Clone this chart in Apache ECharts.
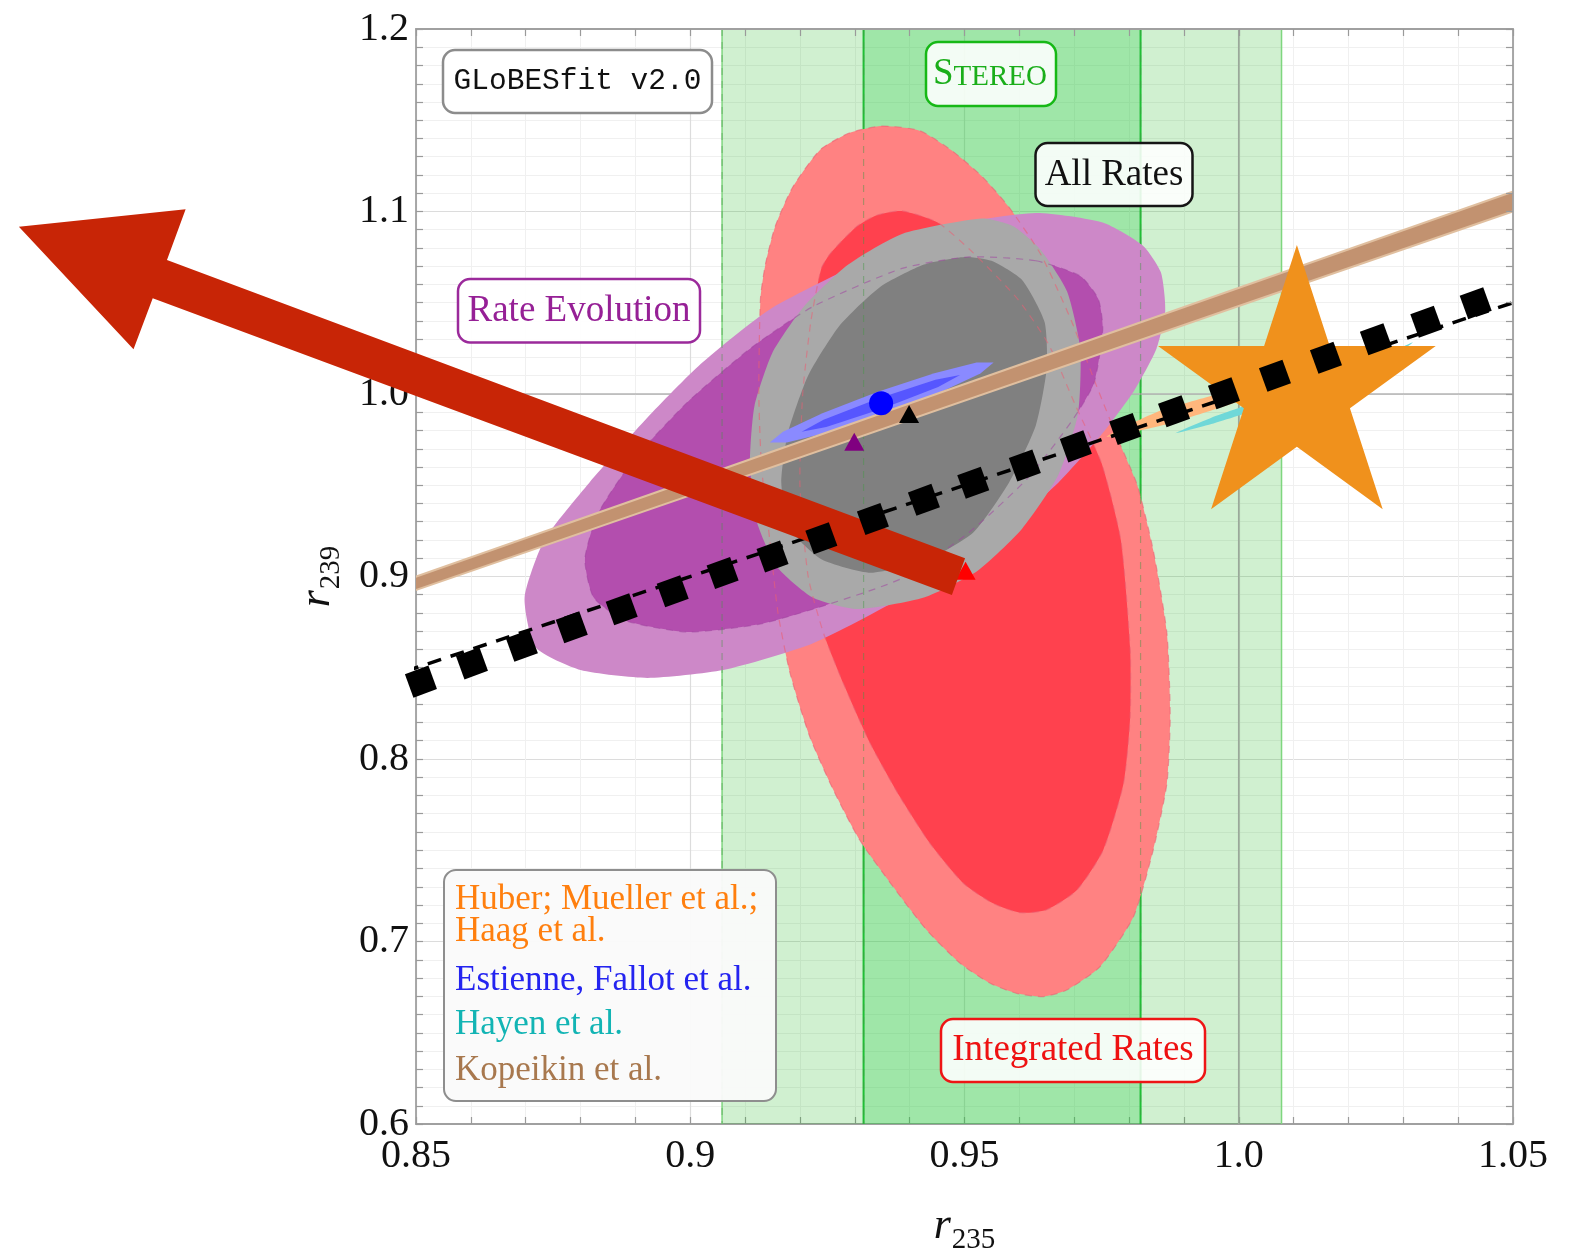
<!DOCTYPE html>
<html>
<head>
<meta charset="utf-8">
<script src="https://cdn.jsdelivr.net/npm/echarts@6/dist/echarts.min.js"></script>
<style>
  html, body { margin: 0; padding: 0; background: #ffffff; }
  #chart { width: 1575px; height: 1248px; }
</style>
</head>
<body>
<div id="chart"></div>
<script>
// ---- axis ticks -------------------------------------------------------------
const xTickLabels = ['0.85', '0.9', '0.95', '1.0', '1.05'];
const yTickLabels = ['0.6', '0.7', '0.8', '0.9', '1.0', '1.1', '1.2'];

// ---- STEREO 1D constraint on r235 (outer / inner band) ----------------------
const stereoOuterBand = [0.9058, 1.0078];
const stereoInnerBand = [0.9316, 0.9821];

// ---- allowed regions in the (r235, r239) plane ------------------------------
const integratedOuter = [
  [0.9349, 1.1468], [0.9418, 1.1443], [0.9475, 1.1338], [0.9532, 1.1192], [0.9581, 1.1024],
  [0.9640, 1.0760], [0.9695, 1.0400], [0.9740, 1.0050], [0.9780, 0.9750], [0.9815, 0.9500],
  [0.9844, 0.9145], [0.9869, 0.8689], [0.9875, 0.8232], [0.9869, 0.7867], [0.9844, 0.7501],
  [0.9808, 0.7136], [0.9747, 0.6862], [0.9686, 0.6734], [0.9643, 0.6698], [0.9595, 0.6716],
  [0.9547, 0.6771], [0.9492, 0.6881], [0.9431, 0.7063], [0.9370, 0.7300], [0.9309, 0.7556],
  [0.9261, 0.7830], [0.9218, 0.8122], [0.9182, 0.8470], [0.9160, 0.8800], [0.9145, 0.9200],
  [0.9130, 0.9600], [0.9125, 1.0000], [0.9128, 1.0520], [0.9137, 1.0709], [0.9155, 1.0919],
  [0.9186, 1.1129], [0.9237, 1.1338], [0.9290, 1.1430]
];
const integratedInner = [
  [0.9386, 1.1003], [0.9451, 1.0940], [0.9516, 1.0773], [0.9597, 1.0520], [0.9654, 1.0268],
  [0.9703, 0.9933], [0.9750, 0.9620], [0.9785, 0.9200], [0.9802, 0.8603], [0.9802, 0.8232],
  [0.9790, 0.7867], [0.9753, 0.7501], [0.9705, 0.7282], [0.9649, 0.7173], [0.9601, 0.7158],
  [0.9552, 0.7209], [0.9498, 0.7319], [0.9437, 0.7538], [0.9382, 0.7794], [0.9328, 0.8086],
  [0.9279, 0.8415], [0.9243, 0.8689], [0.9215, 0.9000], [0.9200, 0.9500], [0.9205, 1.0000],
  [0.9220, 1.0400], [0.9239, 1.0688], [0.9256, 1.0772], [0.9304, 1.0919], [0.9340, 1.0980]
];
const evolutionOuter = [
  [0.9630, 1.0992], [0.9752, 1.0940], [0.9825, 1.0814], [0.9858, 1.0667], [0.9866, 1.0458],
  [0.9850, 1.0248], [0.9809, 1.0017], [0.9752, 0.9786], [0.9671, 0.9514], [0.9549, 0.9200],
  [0.9386, 0.8885], [0.9223, 0.8633], [0.9060, 0.8487], [0.8922, 0.8444], [0.8800, 0.8487],
  [0.8718, 0.8612], [0.8698, 0.8885], [0.8734, 0.9200], [0.8816, 0.9514], [0.8922, 0.9871],
  [0.9019, 1.0164], [0.9142, 1.0458], [0.9304, 1.0709], [0.9467, 1.0919]
];
const evolutionInner = [
  [0.9630, 1.0730], [0.9711, 1.0646], [0.9744, 1.0520], [0.9752, 1.0353], [0.9736, 1.0059],
  [0.9695, 0.9849], [0.9614, 0.9535], [0.9508, 0.9241], [0.9386, 0.8990], [0.9247, 0.8843],
  [0.9125, 0.8738], [0.8995, 0.8696], [0.8881, 0.8759], [0.8824, 0.8885], [0.8808, 0.9095],
  [0.8832, 0.9346], [0.8897, 0.9640], [0.8995, 0.9955], [0.9109, 1.0248], [0.9223, 1.0478],
  [0.9386, 1.0688], [0.9508, 1.0751]
];
const allRatesOuter = [
  [0.9532, 1.0961], [0.9589, 1.0919], [0.9638, 1.0793], [0.9687, 1.0562], [0.9711, 1.0248],
  [0.9707, 0.9892], [0.9671, 0.9556], [0.9605, 0.9262], [0.9524, 0.9032], [0.9426, 0.8885],
  [0.9304, 0.8822], [0.9223, 0.8885], [0.9158, 0.9053], [0.9121, 0.9304], [0.9109, 0.9619],
  [0.9117, 0.9933], [0.9150, 1.0227], [0.9207, 1.0478], [0.9288, 1.0709], [0.9386, 1.0877]
];
const allRatesInner = [
  [0.9500, 1.0751], [0.9549, 1.0730], [0.9605, 1.0625], [0.9646, 1.0395], [0.9650, 1.0143],
  [0.9630, 0.9828], [0.9581, 0.9514], [0.9516, 0.9241], [0.9434, 0.9095], [0.9329, 0.9021],
  [0.9239, 0.9095], [0.9182, 0.9262], [0.9166, 0.9514], [0.9178, 0.9786], [0.9215, 1.0101],
  [0.9272, 1.0374], [0.9345, 1.0584], [0.9426, 1.0709]
];

// ---- flux-model predictions -------------------------------------------------
const estienneOuter = [
  [0.9553, 1.0172], [0.9522, 1.0172], [0.9445, 1.0114], [0.9342, 1.0012], [0.9241, 0.9895],
  [0.9169, 0.9793], [0.9145, 0.9734], [0.9176, 0.9734], [0.9254, 0.9792], [0.9356, 0.9894],
  [0.9457, 1.0011], [0.9529, 1.0113]
];
const estienneInner = [
  [0.9492, 1.0104], [0.9447, 1.0078], [0.9344, 0.9977], [0.9243, 0.9859], [0.9203, 0.9793],
  [0.9248, 0.9819], [0.9351, 0.9920], [0.9452, 1.0038]
];
const huberRegion = [
  [0.9759, 0.9766], [0.9850, 0.9900], [0.9950, 0.9990], [1.0050, 1.0080], [1.0150, 1.0160],
  [1.0220, 1.0210], [1.0150, 1.0110], [1.0050, 1.0010], [0.9950, 0.9910], [0.9850, 0.9820]
];
const hayenRegion = [
  [0.9885, 0.9785], [0.9950, 0.9870], [1.0050, 0.9975], [1.0150, 1.0085], [1.0250, 1.0190],
  [1.0318, 1.0283], [1.0250, 1.0150], [1.0150, 1.0035], [1.0050, 0.9930], [0.9950, 0.9835]
];
const kopeikinUpper = [[0.85, 0.9005], [1.05, 1.1115]];
const kopeikinLower = [[0.85, 0.8920], [1.05, 1.0995]];

// ---- best-fit points --------------------------------------------------------
const bestFitEstienne = [0.9348, 0.9949];
const bestFitAllRates = [0.9399, 0.9890];
const bestFitEvolution = [0.9299, 0.9739];
const bestFitIntegrated = [0.9502, 0.9032];

// ---- overlay: r239 = r235 diagonal, square markers, arrow, star ------------
const diagonal = [[0.848, 0.848], [1.05, 1.05]];
const squareMarks = [
  [0.8509, 0.8424], [0.8602, 0.8524], [0.8693, 0.8621], [0.8784, 0.8722], [0.8875, 0.8821],
  [0.8968, 0.8919], [0.9059, 0.9019], [0.9150, 0.9110], [0.9239, 0.9210], [0.9333, 0.9315],
  [0.9426, 0.9420], [0.9516, 0.9514], [0.9610, 0.9608], [0.9703, 0.9713], [0.9793, 0.9808],
  [0.9882, 0.9905], [0.9973, 1.0004], [1.0066, 1.0100], [1.0159, 1.0199], [1.0250, 1.0300],
  [1.0342, 1.0396], [1.0432, 1.0497]
];
const arrowOutline = [
  [0.9501, 0.9100], [0.8046, 1.0734], [0.8080, 1.1012], [0.7776, 1.0917],
  [0.7985, 1.0245], [0.8020, 1.0524], [0.9477, 0.8899]
];
const starCenter = [1.0106, 1.0016];

// ---- legend entries ---------------------------------------------------------
const legendLines = [
  { text: 'Huber; Mueller et al.;', color: '#ff7f0e' },
  { text: 'Haag et al.', color: '#ff7f0e' },
  { text: 'Estienne, Fallot et al.', color: '#2424f0' },
  { text: 'Hayen et al.', color: '#12b4b4' },
  { text: 'Kopeikin et al.', color: '#a8784e' }
];

const SERIF = '"Liberation Serif", "DejaVu Serif", serif';
const chart = echarts.init(document.getElementById('chart'), null, { renderer: 'canvas' });

function regionSeries(name, pts, fill, z, smooth) {
  return {
    type: 'custom', name, z, silent: true, clip: false,
    data: [pts[0]],
    renderItem: (params, api) => ({
      type: 'polygon',
      shape: { points: pts.map(p => api.coord(p)), smooth: smooth || 0 },
      style: { fill }
    })
  };
}

function outlineSeries(name, pts, stroke, z) {
  return {
    type: 'custom', name, z, silent: true,
    data: [pts[0]],
    renderItem: (params, api) => ({
      type: 'polygon',
      shape: { points: pts.map(p => api.coord(p)), smooth: 0.2 },
      style: { fill: null, stroke, lineWidth: 1.2, lineDash: [7, 6] }
    })
  };
}

function bandSeries(name, range, fill, edge, edgeWidth, z) {
  return {
    type: 'custom', name, z, silent: true,
    data: [[range[0], 0.6]],
    renderItem: (params, api) => {
      const a = api.coord([range[0], 1.2]);
      const b = api.coord([range[1], 0.6]);
      return {
        type: 'group',
        children: [
          { type: 'rect', shape: { x: a[0], y: a[1], width: b[0] - a[0], height: b[1] - a[1] }, style: { fill } },
          { type: 'line', shape: { x1: a[0], y1: a[1], x2: a[0], y2: b[1] }, style: { stroke: edge, lineWidth: edgeWidth } },
          { type: 'line', shape: { x1: b[0], y1: a[1], x2: b[0], y2: b[1] }, style: { stroke: edge, lineWidth: edgeWidth } }
        ]
      };
    }
  };
}

function bandEdgeDashes(name, edges, z) {
  return {
    type: 'custom', name, z, silent: true,
    data: [[edges[0], 0.6]],
    renderItem: (params, api) => ({
      type: 'group',
      children: edges.map(x => {
        const a = api.coord([x, 1.2]);
        const b = api.coord([x, 0.6]);
        return { type: 'line', shape: { x1: a[0], y1: a[1], x2: b[0], y2: b[1] },
                 style: { stroke: 'rgba(70,150,70,0.45)', lineWidth: 1.2, lineDash: [7, 6] } };
      })
    })
  };
}

const series = [
  // STEREO bands
  bandSeries('STEREO outer', stereoOuterBand, 'rgba(20,180,20,0.2)', '#7fd67f', 1.5, 1),
  bandSeries('STEREO inner', stereoInnerBand, 'rgba(48,207,75,0.3)', '#1fbf35', 2, 1),
  // unity reference lines
  {
    type: 'custom', name: 'unity', z: 2, silent: true, data: [[1, 1]],
    renderItem: (params, api) => {
      const l = api.coord([0.85, 1.0]), r = api.coord([1.05, 1.0]);
      const t = api.coord([1.0, 1.2]), b = api.coord([1.0, 0.6]);
      return {
        type: 'group',
        children: [
          { type: 'line', shape: { x1: l[0], y1: l[1], x2: r[0], y2: r[1] }, style: { stroke: '#b4b4b4', lineWidth: 1.6 } },
          { type: 'line', shape: { x1: t[0], y1: t[1], x2: b[0], y2: b[1] }, style: { stroke: '#9aa89a', lineWidth: 1.6 } }
        ]
      };
    }
  },
  // fit regions
  regionSeries('Integrated Rates 2σ', integratedOuter, '#ff8282', 3, 0.2),
  regionSeries('Integrated Rates 1σ', integratedInner, '#ff414e', 3, 0.2),
  regionSeries('Rate Evolution 2σ', evolutionOuter, '#cd88c8', 3, 0.2),
  regionSeries('Rate Evolution 1σ', evolutionInner, '#b34eae', 3, 0.2),
  regionSeries('All Rates 2σ', allRatesOuter, '#a9a9a9', 3, 0.2),
  regionSeries('All Rates 1σ', allRatesInner, '#808080', 3, 0.2),
  // contour outlines showing through
  outlineSeries('Integrated outline 2σ', integratedOuter, 'rgba(235,95,115,0.6)', 4),
  outlineSeries('Integrated outline 1σ', integratedInner, 'rgba(235,95,115,0.55)', 4),
  outlineSeries('Evolution outline 1σ', evolutionInner, 'rgba(160,70,160,0.55)', 4),
  bandEdgeDashes('STEREO edges', [stereoOuterBand[0], stereoInnerBand[0], stereoInnerBand[1]], 4),
  // flux predictions
  regionSeries('Estienne 2σ', estienneOuter, '#8a8aff', 5),
  regionSeries('Estienne 1σ', estienneInner, '#5656ff', 5),
  regionSeries('Huber', huberRegion, '#ffb67c', 5, 0.2),
  regionSeries('Hayen', hayenRegion, '#6fd8d8', 5, 0.2),
  {
    type: 'custom', name: 'Kopeikin', z: 6, silent: true, data: [kopeikinUpper[0]],
    renderItem: (params, api) => {
      const u0 = api.coord(kopeikinUpper[0]), u1 = api.coord(kopeikinUpper[1]);
      const l0 = api.coord(kopeikinLower[0]), l1 = api.coord(kopeikinLower[1]);
      const inset = 2.2;
      return {
        type: 'group',
        children: [
          { type: 'polygon', shape: { points: [u0, u1, l1, l0] }, style: { fill: '#e0bf9f' } },
          { type: 'polygon', shape: { points: [[u0[0], u0[1] + inset], [u1[0], u1[1] + inset], [l1[0], l1[1] - inset], [l0[0], l0[1] - inset]] },
            style: { fill: '#c29270' } }
        ]
      };
    }
  },
  // best-fit markers
  { type: 'scatter', name: 'All Rates best fit', z: 7, silent: true, symbol: 'triangle', symbolSize: [20, 18],
    itemStyle: { color: '#000000', opacity: 1 }, data: [bestFitAllRates] },
  { type: 'scatter', name: 'Evolution best fit', z: 7, silent: true, symbol: 'triangle', symbolSize: [20, 18],
    itemStyle: { color: '#800080', opacity: 1 }, data: [bestFitEvolution] },
  { type: 'scatter', name: 'Integrated best fit', z: 7, silent: true, symbol: 'triangle', symbolSize: [20, 18],
    itemStyle: { color: '#ff0000', opacity: 1 }, data: [bestFitIntegrated] },
  { type: 'scatter', name: 'Estienne', z: 7, silent: true, symbol: 'circle', symbolSize: 24,
    itemStyle: { color: '#0000ff', opacity: 1 }, data: [bestFitEstienne] },
  // r239 = r235 diagonal
  { type: 'line', name: 'diagonal', z: 8, silent: true, showSymbol: false, clip: false, data: diagonal,
    lineStyle: { color: '#000000', width: 3.5, type: [14, 10] } },
  // arrow
  regionSeries('arrow', arrowOutline, '#c82506', 9, 0),
  // star
  {
    type: 'custom', name: 'star', z: 10, silent: true, data: [starCenter],
    renderItem: (params, api) => {
      const c = api.coord(starCenter);
      const R = 146, r = R * 0.382;
      const pts = [];
      for (let i = 0; i < 10; i++) {
        const ang = (-90 + i * 36) * Math.PI / 180;
        const rad = i % 2 ? r : R;
        pts.push([c[0] + rad * Math.cos(ang), c[1] + rad * Math.sin(ang)]);
      }
      return { type: 'polygon', shape: { points: pts }, style: { fill: '#f0911c' } };
    }
  },
  // square markers
  { type: 'scatter', name: 'squares', z: 11, silent: true, symbol: 'rect', symbolSize: 25, symbolRotate: 20,
    itemStyle: { color: '#000000', opacity: 1 }, data: squareMarks }
];

function boxText(left, top, width, height, stroke, fill, textEl) {
  return {
    type: 'group', z: 100,
    children: [
      { type: 'rect', shape: { x: left, y: top, width, height, r: 12 }, style: { fill, stroke, lineWidth: 2.5 }, z: 100 },
      Object.assign({ z: 101 }, textEl)
    ]
  };
}

const legendChildren = [
  { type: 'rect', shape: { x: 444, y: 870, width: 332, height: 231, r: 12 },
    style: { fill: 'rgba(250,250,250,0.96)', stroke: '#8e8e8e', lineWidth: 2 }, z: 100 }
];
const legendY = [900, 932, 981, 1025, 1071];
legendLines.forEach((l, i) => {
  legendChildren.push({ type: 'text', x: 455, y: legendY[i], z: 101,
    style: { text: l.text, fill: l.color, font: '35px ' + SERIF, verticalAlign: 'middle', align: 'left' } });
});

const graphic = [
  boxText(443, 50, 269, 63, '#8c8c8c', '#ffffff',
    { type: 'text', x: 577.5, y: 81, style: { text: 'GLoBESfit v2.0', fill: '#111', font: '29.5px "Liberation Mono", "DejaVu Sans Mono", monospace', align: 'center', verticalAlign: 'middle' } }),
  boxText(926, 42, 130, 64, '#16b816', 'rgba(255,255,255,0.88)',
    { type: 'text', x: 990, y: 74, style: { text: '{a|S}{b|TEREO}', align: 'center', verticalAlign: 'middle',
      rich: { a: { font: '37px ' + SERIF, fill: '#1aae1a', verticalAlign: 'bottom' }, b: { font: '29px ' + SERIF, fill: '#1aae1a', verticalAlign: 'bottom', padding: [0, 0, 1, 0] } } } }),
  boxText(1035.5, 143, 157, 63, '#151515', 'rgba(255,255,255,0.88)',
    { type: 'text', x: 1114, y: 175, style: { text: 'All Rates', fill: '#111', font: '37px ' + SERIF, align: 'center', verticalAlign: 'middle' } }),
  boxText(458, 279, 242, 63.5, '#9b2a9b', 'rgba(255,255,255,0.92)',
    { type: 'text', x: 579, y: 311, style: { text: 'Rate Evolution', fill: '#962096', font: '37px ' + SERIF, align: 'center', verticalAlign: 'middle' } }),
  boxText(941, 1019, 264, 63, '#ee1515', 'rgba(255,255,255,0.88)',
    { type: 'text', x: 1073, y: 1050, style: { text: 'Integrated Rates', fill: '#ee1111', font: '37px ' + SERIF, align: 'center', verticalAlign: 'middle' } }),
  { type: 'group', z: 100, children: legendChildren }
];

const tickStyle = { show: true, inside: true, length: 7, lineStyle: { color: '#9a9a9a', width: 1.2 } };
const frameLine = { show: true, onZero: false, lineStyle: { color: '#a0a0a0', width: 1.8 } };
const nameRich = {
  r: { fontFamily: SERIF, fontStyle: 'italic', fontSize: 44, color: '#111', verticalAlign: 'bottom', padding: [0, 1, 7, 0] },
  s: { fontFamily: SERIF, fontSize: 29, color: '#111', verticalAlign: 'bottom' }
};

const option = {
  animation: false,
  backgroundColor: '#ffffff',
  grid: { left: 416, top: 29, width: 1097, height: 1095, containLabel: false, outerBoundsMode: 'none' },
  xAxis: [
    {
      type: 'value', min: 0.85, max: 1.05, interval: 0.05, position: 'bottom',
      axisLine: frameLine, axisTick: tickStyle,
      minorTick: { show: true, splitNumber: 5, length: 7, lineStyle: { color: '#9a9a9a', width: 1.2 } },
      splitLine: { show: true, lineStyle: { color: '#dcdcdc', width: 1.2 } },
      minorSplitLine: { show: true, lineStyle: { color: '#f0f0f0', width: 1 } },
      axisLabel: { margin: 12, fontFamily: SERIF, fontSize: 40, color: '#111',
        formatter: v => xTickLabels[Math.round((v - 0.85) / 0.05)] },
      name: '{r|r}{s|235}', nameLocation: 'middle', nameGap: 80,
      nameTextStyle: { rich: nameRich }
    },
    {
      type: 'value', min: 0.85, max: 1.05, interval: 0.05, position: 'top', z: 20,
      axisLine: frameLine, axisTick: tickStyle,
      minorTick: { show: true, splitNumber: 5, length: 7, lineStyle: { color: '#9a9a9a', width: 1.2 } },
      splitLine: { show: false }, axisLabel: { show: false }
    }
  ],
  yAxis: [
    {
      type: 'value', min: 0.6, max: 1.2, interval: 0.1, position: 'left',
      axisLine: frameLine, axisTick: tickStyle,
      minorTick: { show: true, splitNumber: 10, length: 7, lineStyle: { color: '#9a9a9a', width: 1.2 } },
      splitLine: { show: true, lineStyle: { color: '#dcdcdc', width: 1.2 } },
      minorSplitLine: { show: true, lineStyle: { color: '#f0f0f0', width: 1 } },
      axisLabel: { margin: 7, fontFamily: SERIF, fontSize: 40, color: '#111',
        formatter: v => yTickLabels[Math.round((v - 0.6) / 0.1)] },
      name: '{r|r}{s|239}', nameLocation: 'middle', nameGap: 70, nameRotate: 90,
      nameTextStyle: { rich: nameRich }
    },
    {
      type: 'value', min: 0.6, max: 1.2, interval: 0.1, position: 'right', z: 20,
      axisLine: frameLine, axisTick: tickStyle,
      minorTick: { show: true, splitNumber: 10, length: 7, lineStyle: { color: '#9a9a9a', width: 1.2 } },
      splitLine: { show: false }, axisLabel: { show: false }
    }
  ],
  series,
  graphic
};

chart.setOption(option);
</script>
</body>
</html>
